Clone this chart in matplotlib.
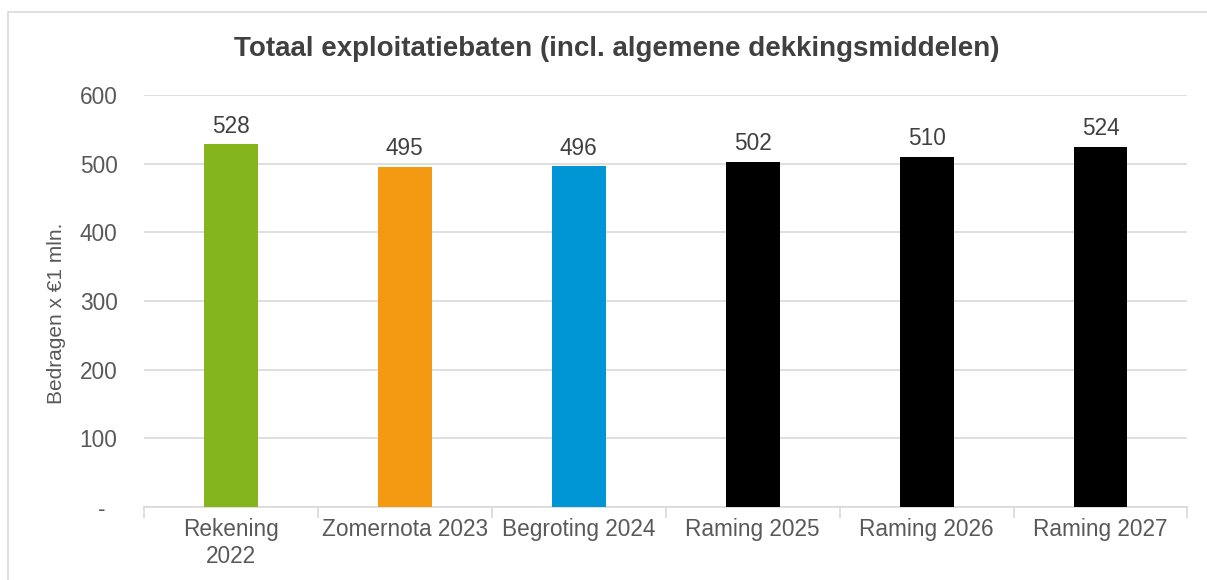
import matplotlib
matplotlib.use("Agg")
import matplotlib.pyplot as plt
from matplotlib.patches import Rectangle
import numpy as np

plt.rcParams['font.family'] = ['Liberation Sans', 'DejaVu Sans']

categories = ["Rekening\n2022", "Zomernota 2023", "Begroting 2024",
              "Raming 2025", "Raming 2026", "Raming 2027"]
values = [528, 495, 496, 502, 510, 524]
colors = ["#84B51C", "#F39A12", "#0096D6", "#000000", "#000000", "#000000"]
yticks = [0, 100, 200, 300, 400, 500, 600]
ytick_labels = ["-  ", "100", "200", "300", "400", "500", "600"]

fig = plt.figure(figsize=(12.07, 5.8), dpi=100)
ax = fig.add_axes([0.1193, 0.1259, 0.8645, 0.7103])

# outer frame
fig.patches.append(Rectangle((8 / 1207, -0.1), 1.2, 1 - 12 / 580 + 0.1,
                             transform=fig.transFigure, fill=False,
                             edgecolor="#d9d9d9", lw=1.2))

x = np.arange(len(categories))
ax.bar(x, values, width=0.31, color=colors, zorder=3)
for xi, v in zip(x, values):
    ax.text(xi, v + 10, str(v), ha="center", va="bottom", fontsize=16.3, color="#404040")

ax.set_xlim(-0.5, len(categories) - 0.5)
ax.set_ylim(0, 600)
ax.set_yticks(yticks)
ax.set_yticklabels(ytick_labels)
ax.yaxis.grid(True, color="#d9d9d9", lw=1.2, zorder=0)
ax.tick_params(axis="y", length=0, pad=19, labelsize=16.3, labelcolor="#595959")

ax.set_xticks(x)
ax.set_xticklabels(categories)
ax.tick_params(axis="x", length=0, pad=8, labelsize=16.3, labelcolor="#595959")
ax.set_xticks(np.arange(len(categories) + 1) - 0.5, minor=True)
ax.tick_params(axis="x", which="minor", length=8, color="#d9d9d9", width=1.2)

for s in ["top", "right", "left"]:
    ax.spines[s].set_visible(False)
ax.spines["bottom"].set_color("#d9d9d9")
ax.spines["bottom"].set_linewidth(1.2)

ax.set_ylabel("Bedragen x €1 mln.", fontsize=15, color="#595959")
ax.yaxis.set_label_coords(-0.075, 0.47)
fig.text(0.511, 0.915, "Totaal exploitatiebaten (incl. algemene dekkingsmiddelen)",
         ha="center", va="center", fontsize=20, fontweight="bold", color="#404040")

fig.savefig("out.png", dpi=100)
